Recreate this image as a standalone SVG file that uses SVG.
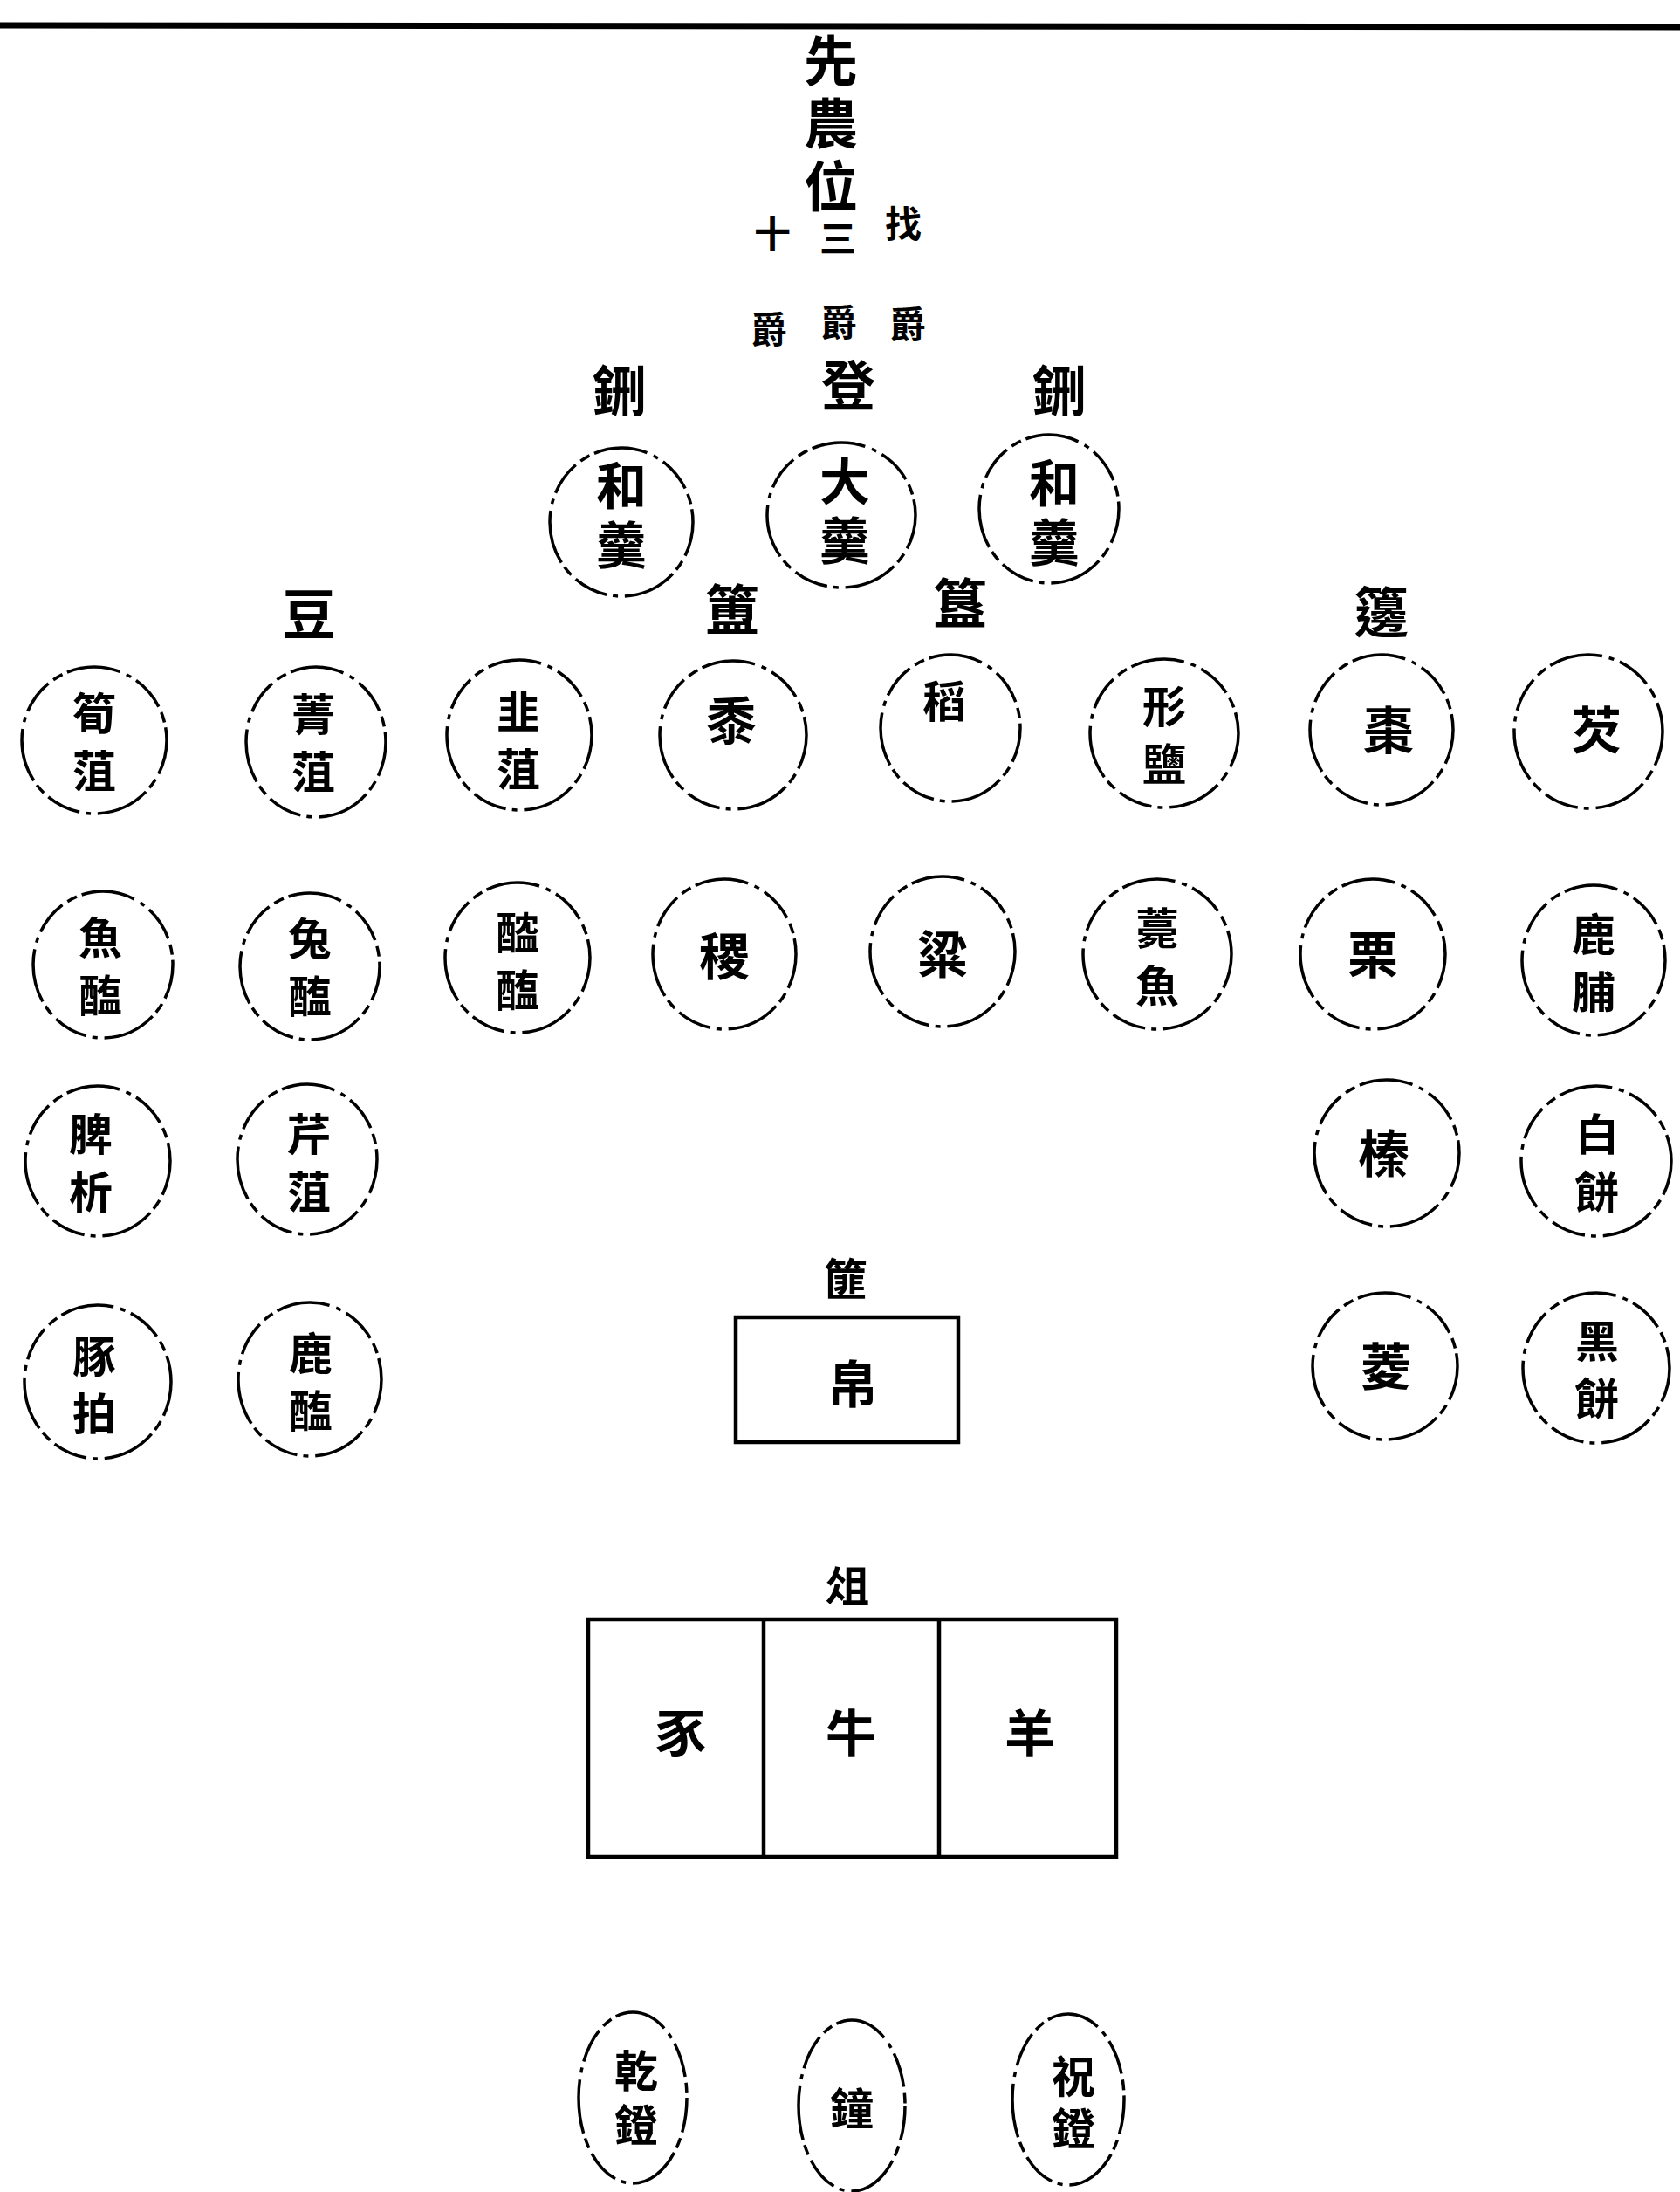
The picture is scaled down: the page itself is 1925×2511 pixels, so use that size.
<svg xmlns="http://www.w3.org/2000/svg" width="1925" height="2511" viewBox="0 0 1925 2511">
<style>
text{font-family:"Noto Sans CJK TC","Noto Sans CJK SC",sans-serif;font-weight:700;fill:#000;text-anchor:middle;dominant-baseline:central}
.vt{writing-mode:vertical-rl;dominant-baseline:auto}
.v{fill:none;stroke:#000;stroke-width:3.5;stroke-dasharray:40 7 12 6 62 8 6 7}
.b{fill:none;stroke:#000;stroke-width:4.5}
.t{font-size:62px}
.s{font-size:42px}
.m{font-size:50px;letter-spacing:16px}
.g{font-size:58px;letter-spacing:10px}
.n{font-size:58px}
</style>
<rect width="1925" height="2511" fill="#fff"/>
<g id="frame"><path d="M0 29 L1925 31" stroke="#000" stroke-width="7" fill="none"/></g>
<g id="title">
<text class="t vt" x="952" y="146" style="letter-spacing:10px">先農位</text>
<text class="s" x="885" y="264">十</text>
<text class="s" x="960" y="270">三</text>
<text class="s" x="1035" y="253">找</text>
</g>
<g id="jue">
<text class="s" x="881" y="374">爵</text>
<text class="s" x="961" y="366">爵</text>
<text class="s" x="1040" y="368">爵</text>
</g>
<g id="labels">
<text class="t" x="972" y="438">登</text>
<text class="t" x="710" y="444">鉶</text>
<text class="t" x="1214" y="444">鉶</text>
<text class="t" x="354" y="700">豆</text>
<text class="t" x="839" y="695">簠</text>
<text class="t" x="1100" y="688">簋</text>
<text class="t" x="1583" y="698">籩</text>
<text class="m" x="977" y="1462">篚</text>
<text class="m" x="979" y="1814">俎</text>
</g>
<g id="top-vessels">
<g id="xing-left"><ellipse class="v" cx="712" cy="598" rx="82" ry="85"/><text class="g vt" x="712" y="595">和羹</text></g>
<g id="deng"><ellipse class="v" cx="964" cy="590" rx="85" ry="83"/><text class="g vt" x="968" y="590">大羹</text></g>
<g id="xing-right"><ellipse class="v" cx="1202" cy="583" rx="80" ry="85"/><text class="g vt" x="1208" y="592">和羹</text></g>
</g>
<g id="row1">
<g id="n-sunzu"><ellipse class="v" cx="108" cy="848" rx="83" ry="84"/><text class="m vt" x="108" y="858">筍菹</text></g>
<g id="n-jingzu"><ellipse class="v" cx="362" cy="850" rx="80" ry="86"/><text class="m vt" x="359" y="859">菁菹</text></g>
<g id="n-jiuzu"><ellipse class="v" cx="595" cy="842" rx="83" ry="86"/><text class="m vt" x="594" y="856">韭菹</text></g>
<g id="n-shu"><ellipse class="v" cx="840" cy="842" rx="84" ry="85"/><text class="n" x="838" y="822">黍</text></g>
<g id="n-dao"><ellipse class="v" cx="1089" cy="834" rx="80" ry="84"/><text class="m" x="1090" y="800">稻</text></g>
<g id="n-xingyan"><ellipse class="v" cx="1334" cy="840" rx="85" ry="85"/><text class="m vt" x="1334" y="850">形鹽</text></g>
<g id="n-zao"><ellipse class="v" cx="1583" cy="836" rx="82" ry="86"/><text class="n" x="1591" y="833">棗</text></g>
<g id="n-qian"><ellipse class="v" cx="1820" cy="838" rx="85" ry="88"/><text class="n" x="1829" y="833">芡</text></g>
</g>
<g id="row2">
<g id="n-yuhai"><ellipse class="v" cx="118" cy="1105" rx="80" ry="84"/><text class="m vt" x="115" y="1115">魚醢</text></g>
<g id="n-tuhai"><ellipse class="v" cx="355" cy="1107" rx="80" ry="84"/><text class="m vt" x="355" y="1116">兔醢</text></g>
<g id="n-tanhai"><ellipse class="v" cx="593" cy="1097" rx="83" ry="86"/><text class="m vt" x="593" y="1109">醓醢</text></g>
<g id="n-ji"><ellipse class="v" cx="830" cy="1093" rx="82" ry="86"/><text class="n" x="830" y="1092">稷</text></g>
<g id="n-liang"><ellipse class="v" cx="1080" cy="1090" rx="83" ry="86"/><text class="n" x="1080" y="1090">粱</text></g>
<g id="n-kaoyu"><ellipse class="v" cx="1326" cy="1093" rx="85" ry="86"/><text class="m vt" x="1326" y="1104">薧魚</text></g>
<g id="n-li"><ellipse class="v" cx="1573" cy="1093" rx="83" ry="86"/><text class="n" x="1573" y="1090">栗</text></g>
<g id="n-lufu"><ellipse class="v" cx="1826" cy="1100" rx="82" ry="86"/><text class="m vt" x="1826" y="1111">鹿脯</text></g>
</g>
<g id="row3">
<g id="n-pixi"><ellipse class="v" cx="112" cy="1330" rx="83" ry="86"/><text class="m vt" x="104" y="1340">脾析</text></g>
<g id="n-qinzu"><ellipse class="v" cx="352" cy="1328" rx="80" ry="86"/><text class="m vt" x="354" y="1340">芹菹</text></g>
<g id="n-zhen"><ellipse class="v" cx="1589" cy="1321" rx="83" ry="84"/><text class="n" x="1586" y="1318">榛</text></g>
<g id="n-baibing"><ellipse class="v" cx="1829" cy="1330" rx="86" ry="86"/><text class="m vt" x="1830" y="1340">白餅</text></g>
</g>
<g id="row4">
<g id="n-tunpai"><ellipse class="v" cx="112" cy="1583" rx="84" ry="88"/><text class="m vt" x="108" y="1594">豚拍</text></g>
<g id="n-luhai"><ellipse class="v" cx="355" cy="1580" rx="82" ry="88"/><text class="m vt" x="356" y="1591">鹿醢</text></g>
<g id="n-ling"><ellipse class="v" cx="1587" cy="1565" rx="83" ry="84"/><text class="n" x="1588" y="1562">菱</text></g>
<g id="n-heibing"><ellipse class="v" cx="1829" cy="1567" rx="84" ry="86"/><text class="m vt" x="1830" y="1577">黑餅</text></g>
</g>
<g id="fei"><rect class="b" x="843" y="1509" width="255" height="143"/><text class="n" x="977" y="1582">帛</text></g>
<g id="zu">
<rect class="b" x="674" y="1855" width="605" height="272"/>
<line class="b" x1="875" y1="1855" x2="875" y2="2127"/>
<line class="b" x1="1076" y1="1855" x2="1076" y2="2127"/>
<text class="n" x="780" y="1982">豕</text>
<text class="n" x="975" y="1982">牛</text>
<text class="n" x="1180" y="1982">羊</text>
</g>
<g id="bottom">
<g id="n-b1"><ellipse class="v" cx="725" cy="2403" rx="62" ry="98"/><text class="m vt" x="729" y="2409" style="letter-spacing:12px">乾鐙</text></g>
<g id="n-b2"><ellipse class="v" cx="976" cy="2412" rx="61" ry="98"/><text class="m" x="984" y="2412">鐘</text></g>
<g id="n-b3"><ellipse class="v" cx="1224" cy="2405" rx="64" ry="98"/><text class="m vt" x="1230" y="2413" style="letter-spacing:10px">祝鐙</text></g>
</g>
<g id="connectors"/>
</svg>
